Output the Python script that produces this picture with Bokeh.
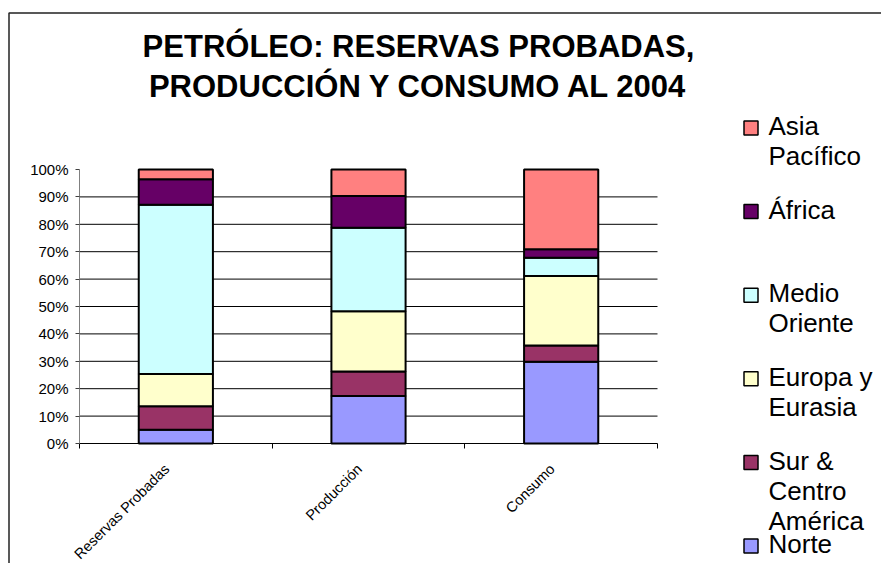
import math
from bokeh.plotting import figure
from bokeh.models import Range1d, FixedTicker, ColumnDataSource
from bokeh.embed import file_html
from bokeh.resources import INLINE
from bokeh.core.properties import value

# ---------------- data ----------------
categories = ["Reservas Probadas", "Producción", "Consumo"]
norte = [5.0, 17.3, 29.8]
sur_centro_america = [8.6, 9.0, 6.0]
europa_eurasia = [11.8, 22.0, 25.3]
medio_oriente = [61.7, 30.4, 6.7]
africa = [9.3, 11.6, 3.1]
asia_pacifico = [3.6, 9.7, 29.1]

series_keys = ["norte", "sur", "europa", "medio", "africa", "asia"]
legend_lines = [["Norte"], ["Sur &", "Centro", "América"], ["Europa y", "Eurasia"],
                ["Medio", "Oriente"], ["África"], ["Asia", "Pacífico"]]
colors = ["#9999FF", "#993366", "#FFFFCC", "#CCFFFF", "#660066", "#FF8080"]

y_ticks = [0, 10, 20, 30, 40, 50, 60, 70, 80, 90, 100]
y_tick_labels = ["0%", "10%", "20%", "30%", "40%", "50%", "60%", "70%", "80%", "90%", "100%"]
title_lines = ["PETRÓLEO: RESERVAS PROBADAS,", "PRODUCCIÓN Y CONSUMO AL 2004"]

FONT = "Liberation Sans"

# ---------------- layout constants (picture pixels) ----------------
W, H = 881, 563
CX0, CY0 = 0, 0                 # canvas origin in the picture
PX_L, PX_R = 79, 657            # plot area left/right
PY_T, PY_B = 169, 443           # plot area top/bottom (100% / 0%)
n_cat = len(categories)
kx = (PX_R - PX_L) / n_cat
ky = (PY_B - PY_T) / 100.0
TITLE_FS = 31
LEG_FS = 26
BASE_FIX = 0.36                 # baseline correction (em) for text glyphs
LABEL_SHIFT = -9 / kx           # slide rotated category labels left


def X(sx):
    return -0.5 + (sx - PX_L) / kx


def Y(sy):
    return (PY_B - sy) / ky


p = figure(width=W, height=H, output_backend="svg", toolbar_location=None,
           x_range=Range1d(X(CX0), X(CX0 + W)), y_range=Range1d(Y(CY0 + H), Y(CY0)),
           min_border=0)
p.title.visible = False
p.outline_line_color = None
p.background_fill_color = "white"
p.border_fill_color = "white"
p.xgrid.visible = False
p.ygrid.visible = False

# horizontal gridlines (10% .. 90%) limited to the plot area
grid_vals = y_ticks[1:-1]
p.segment(x0=[-0.5] * len(grid_vals), x1=[n_cat - 0.5] * len(grid_vals),
          y0=grid_vals, y1=grid_vals, line_color="black", line_width=1)

# stacked bars
x_pos = list(range(n_cat))
src = ColumnDataSource(dict(x=x_pos, norte=norte, sur=sur_centro_america,
                            europa=europa_eurasia, medio=medio_oriente,
                            africa=africa, asia=asia_pacifico))
p.vbar_stack(series_keys, x="x", width=0.385, source=src, fill_color=colors,
             line_color="black", line_width=2)

# y axis (fixed at left edge of the plot area)
yax = p.yaxis[0]
yax.fixed_location = -0.5
yax.bounds = (0, 100)
yax.ticker = FixedTicker(ticks=y_ticks)
yax.major_label_overrides = {t: l for t, l in zip(y_ticks, y_tick_labels)}
yax.axis_line_color = "#808080"
yax.major_tick_line_color = "#404040"
yax.major_tick_out = 4
yax.major_tick_in = 0
yax.minor_tick_line_color = None
yax.major_label_standoff = 7
yax.major_label_text_font = FONT
yax.major_label_text_font_size = "15px"
yax.major_label_text_color = "black"

# x axis (fixed at 0%)
label_ticks = [i + LABEL_SHIFT for i in x_pos]
xax = p.xaxis[0]
xax.fixed_location = 0
xax.bounds = (-0.5, n_cat - 0.5)
xax.ticker = FixedTicker(ticks=label_ticks,
                         minor_ticks=[i - 0.5 for i in range(n_cat + 1)])
xax.major_label_overrides = {t: c for t, c in zip(label_ticks, categories)}
xax.major_label_orientation = math.pi / 4
xax.major_tick_line_color = None
xax.major_tick_out = 0
xax.major_tick_in = 0
xax.minor_tick_line_color = "black"
xax.minor_tick_out = 5
xax.minor_tick_in = 0
xax.axis_line_color = "black"
xax.major_label_standoff = 18
xax.major_label_text_font = FONT
xax.major_label_text_font_size = "14.5px"
xax.major_label_text_color = "black"

# title
title_base = [57, 97]
p.text(x=[X(418)] * 2, y=[Y(b - BASE_FIX * TITLE_FS) for b in title_base],
       text=title_lines, text_align="center", text_baseline="alphabetic",
       text_font=value(FONT), text_font_size=f"{TITLE_FS}px",
       text_font_style="bold", text_color="black")

# legend (top-down: reverse of stacking order)
order = list(range(len(series_keys)))[::-1]
sq_x, sq_y, sq_c, tx, ty, tt = [], [], [], [], [], []
for rank, idx in enumerate(order):
    base = 135 + rank * 83.6          # baseline of first line (picture px)
    sq_x.append(X(750.5))
    sq_y.append(Y(base - 7.5))
    sq_c.append(colors[idx])
    for j, line in enumerate(legend_lines[idx]):
        tx.append(X(768))
        ty.append(Y(base + j * 30 - BASE_FIX * LEG_FS))
        tt.append(line)
p.scatter(x=sq_x, y=sq_y, marker="square", size=14, fill_color=sq_c,
          line_color="black", line_width=1.5)
p.text(x=tx, y=ty, text=tt, text_font=value(FONT), text_font_size=f"{LEG_FS}px",
       text_baseline="alphabetic", text_align="left", text_color="black")

# chart border (left and top edges visible in the window)
p.line(x=[X(8.5), X(8.5), X(CX0 + W + 5)], y=[Y(CY0 + H + 5), Y(12.5), Y(12.5)],
       line_color="#222222", line_width=1.5)

open("out.html", "w").write(file_html(p, INLINE))
